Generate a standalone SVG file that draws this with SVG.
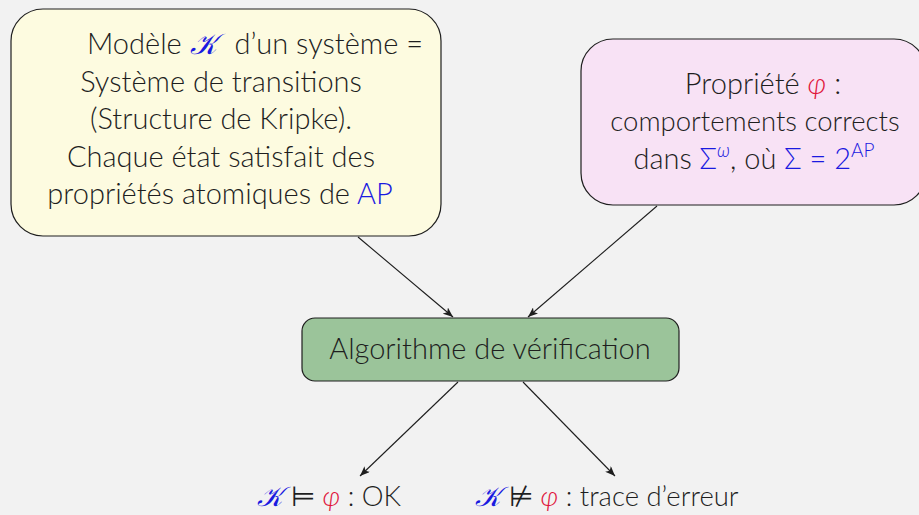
<svg xmlns="http://www.w3.org/2000/svg" width="919" height="515" viewBox="0 0 919 515">
<style>
.t{font-family:"Lato","Open Sans","Liberation Sans",sans-serif;font-size:29px;fill:#1e1e1e;font-weight:300}
.s{font-size:27.5px}
.b{fill:#1a1ae0}
.r{fill:#e0163c}
.m{font-family:"DejaVu Sans","Noto Sans",sans-serif}
.box{stroke:#1e1e1e;stroke-width:1.2}
.c{stroke:#1e1e1e;stroke-width:1.1;fill:none;marker-end:url(#ah)}
</style>
<defs>
<marker id="ah" viewBox="0 0 10 8" refX="10" refY="4" markerWidth="10" markerHeight="8" markerUnits="userSpaceOnUse" orient="auto">
<path d="M0,0 L10,4 L0,8 L2.5,4 Z" fill="#1e1e1e"/>
</marker>
</defs>
<rect width="919" height="515" fill="#f2f2f2"/>
<g id="connectors">
<line class="c" x1="358" y1="237" x2="453" y2="317"/>
<line class="c" x1="657" y1="206" x2="528" y2="317"/>
<line class="c" x1="458" y1="382" x2="360" y2="476"/>
<line class="c" x1="523" y1="382" x2="615" y2="476"/>
</g>
<g id="modele">
<rect class="box" x="11" y="9" width="430" height="227" rx="32" fill="#fdfbe0"/>
<text class="t" x="87" y="54">Modèle <tspan class="b m" font-style="italic">𝒦</tspan><tspan dx="10"> d’un système =</tspan></text>
<text class="t" x="221" y="92" text-anchor="middle">Système de transitions</text>
<text class="t" x="221" y="129" text-anchor="middle">(Structure de Kripke).</text>
<text class="t" x="221" y="167" text-anchor="middle">Chaque état satisfait des</text>
<text class="t" x="220" y="204" text-anchor="middle">propriétés atomiques de <tspan class="b">AP</tspan></text>
</g>
<g id="propriete">
<rect class="box" x="581" y="39" width="345" height="166" rx="32" fill="#f8e2f5"/>
<text class="t" x="763" y="94" text-anchor="middle">Propriété <tspan class="r" font-style="italic">φ</tspan> :</text>
<text class="t s" x="755" y="131" text-anchor="middle">comportements corrects</text>
<text class="t" x="754" y="169" text-anchor="middle">dans <tspan class="b">Σ</tspan><tspan class="b" font-size="19" dy="-12" font-style="italic">ω</tspan><tspan dy="12">, où </tspan><tspan class="b">Σ = 2</tspan><tspan class="b" font-size="19" dy="-12">AP</tspan></text>
</g>
<g id="algo">
<rect class="box" x="302" y="318" width="377" height="63" rx="13" fill="#9bc49a"/>
<text class="t" x="490" y="359" text-anchor="middle">Algorithme de vérification</text>
</g>
<g id="ok">
<text class="t s" x="257" y="506"><tspan class="b m" font-style="italic">𝒦</tspan><tspan class="m" dx="8">⊨</tspan> <tspan class="r" font-style="italic">φ</tspan> : OK</text>
</g>
<g id="erreur">
<text class="t s" x="475" y="506"><tspan class="b m" font-style="italic">𝒦</tspan><tspan class="m" dx="8">⊭</tspan> <tspan class="r" font-style="italic">φ</tspan> : trace d’erreur</text>
</g>
</svg>
